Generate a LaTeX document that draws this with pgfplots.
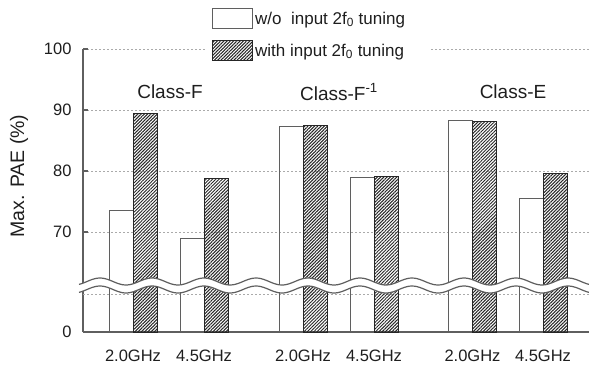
\documentclass[border=0pt]{standalone}
\usepackage{pgfplots}
\pgfplotsset{compat=1.18}
\usepackage{pgfplotstable}
\usepackage{fontspec}
\setmainfont{Liberation Sans}
\usetikzlibrary{patterns.meta}
\definecolor{axgray}{RGB}{95,95,95}
\definecolor{gridgray}{RGB}{170,170,170}
\definecolor{txt}{RGB}{30,30,30}
\pgfplotstableread{
x      wo     with
133    73.6   89.5
204    68.9   78.8
303    87.3   87.4
374    78.9   79.1
472.5  88.2   88.1
543    75.5   79.6
}\data
\begin{document}
\begin{tikzpicture}[x=1bp,y=1bp]
\path[use as bounding box] (0,0) rectangle (589,369);
\begin{axis}[
  at={(83bp,37bp)}, anchor=south west,
  scale only axis, width=506bp, height=283bp,
  xmin=83, xmax=589, ymin=0, ymax=283,
  axis x line*=bottom, axis y line*=left,
  axis line style={axgray, line width=1.1bp},
  ybar, bar width=24bp,
  xtick={133,204,303,374,472.5,543},
  xticklabels={2.0GHz,4.5GHz,2.0GHz,4.5GHz,2.0GHz,4.5GHz},
  x tick label style={font=\fontsize{16.5bp}{19bp}\selectfont, text=txt, yshift=-14bp},
  major x tick style={draw=none},
  ytick={0,100,161,222,283},
  yticklabels={0,70,80,90,100},
  y tick label style={font=\fontsize{16.5bp}{19bp}\selectfont, text=txt, xshift=-8bp},
  major y tick style={axgray, line width=1.1bp},
  tick align=inside, major tick length=5bp,
  ymajorgrids, grid style={gridgray, dash pattern=on 2bp off 2bp, line width=0.8bp},
  extra y ticks={38}, extra y tick labels={}, extra y tick style={grid=major, major tick length=0pt},
  clip=false,
  legend style={at={(axis description cs:0.2411,1.1449)}, anchor=north west,
    draw=none, fill=white, inner xsep=7bp, inner ysep=0bp,
    font=\fontsize{17bp}{20bp}\selectfont, text=txt, row sep=11bp,
    legend cell align=left},
  legend image code/.code={\draw[#1] (0bp,-10bp) rectangle (40bp,10bp);},
]
\addplot[draw=axgray, fill=none, line width=1bp, bar shift=-12bp]
  table[x=x, y expr={100+(\thisrow{wo}-70)*6.1}] {\data};
\addplot[draw=black!85, line width=1bp, bar shift=12bp,
  pattern={Lines[angle=45,distance=2.3bp,line width=1bp]}, pattern color=black!85]
  table[x=x, y expr={100+(\thisrow{with}-70)*6.1}] {\data};
\legend{w/o~~input 2f\textsubscript{0} tuning\hspace*{15bp}, with input 2f\textsubscript{0} tuning}
\node[font=\fontsize{19bp}{22bp}\selectfont, text=txt] at (axis cs:170,240) {Class-F};
\node[font=\fontsize{19bp}{22bp}\selectfont, text=txt] at (axis cs:339,240) {Class-F\textsuperscript{-1}};
\node[font=\fontsize{19bp}{22bp}\selectfont, text=txt] at (axis cs:513,240) {Class-E};
\end{axis}
\fill[white] plot[domain=79:589, samples=200, smooth] (\x, {87.5+3.5*cos((\x-100)*6.923)})
  -- plot[domain=589:79, samples=200, smooth] (\x, {79.5+3.5*cos((\x-100)*6.923)}) -- cycle;
\draw[axgray, line width=1.2bp] plot[domain=79:589, samples=200, smooth] (\x, {87.5+3.5*cos((\x-100)*6.923)});
\draw[axgray, line width=1.2bp] plot[domain=79:589, samples=200, smooth] (\x, {79.5+3.5*cos((\x-100)*6.923)});
\node[rotate=90, font=\fontsize{19.5bp}{23bp}\selectfont, text=txt] at (19,193) {Max. PAE (\%)};
\end{tikzpicture}
\end{document}
